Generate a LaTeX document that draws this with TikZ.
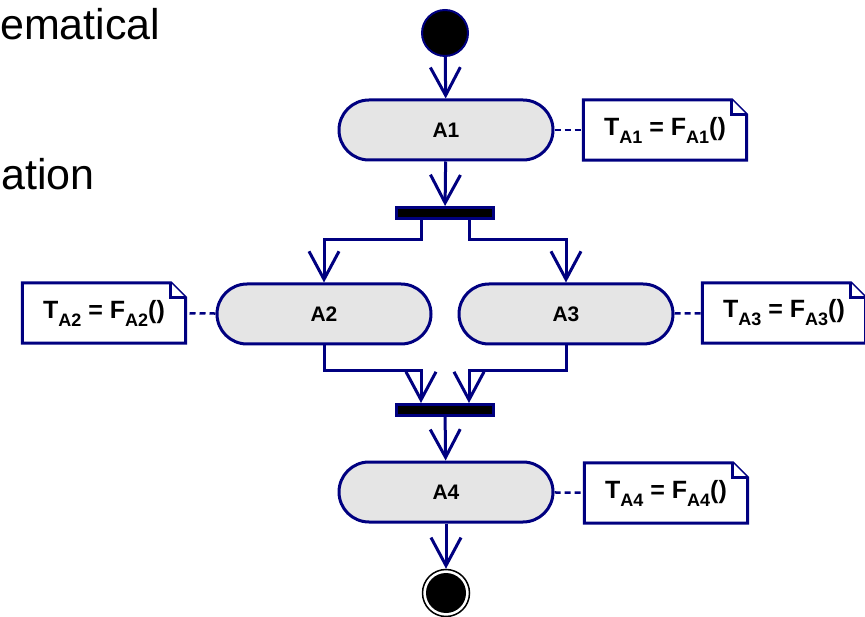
\documentclass[tikz,border=0pt]{standalone}
\usepackage{fontspec}
\setmainfont{Liberation Sans}
\usetikzlibrary{arrows.meta}
\definecolor{umlblue}{RGB}{0,0,128}
\newcommand\lowidx[1]{\raisebox{-0.32em}{\fontsize{18}{18}\selectfont #1}}
\newcommand\dogear[1]{\draw[noteline] (#1.south west) -- (#1.north west) -- ([xshift=-15]#1.north east) -- ([yshift=-15]#1.north east) -- (#1.south east) -- cycle;
	\draw[noteline] ([xshift=-15]#1.north east) -- ++(0,15) -- ([yshift=-15]#1.north east);}

\tikzset{
	action/.style={draw=umlblue, fill=black!10, line width=3pt, rounded corners=30pt, minimum width=214pt, minimum height=60pt, font=\fontsize{21}{24}\selectfont\bfseries},
	bar/.style={draw=umlblue, fill=black, line width=3pt, minimum width=97pt, minimum height=11pt, inner sep=0pt},
	note/.style={minimum width=163pt, minimum height=60pt, inner sep=0pt, font=\fontsize{25}{29}\selectfont\bfseries},
	noteline/.style={draw=umlblue, fill=white, line width=3pt, line join=miter},
	flow/.style={draw=umlblue, line width=3pt, -{Straight Barb[length=28pt, width=30pt]}},
	link/.style={draw=umlblue, line width=2.5pt, dash pattern=on 6pt off 4pt}
}

\begin{document}
\begin{tikzpicture}[x=1pt, y=-1pt]
	\useasboundingbox (0,0) rectangle (865,617);
	\clip (0,0) rectangle (865,617);
	
	% slide text
	\node[anchor=base west, inner sep=0pt, font=\fontsize{43}{52}\selectfont] (txta) at (0, 40) {ematical};
	\node[anchor=base west, inner sep=0pt, font=\fontsize{43}{52}\selectfont] (txtb) at (1, 190) {ation};
	
	% activities
	\node[circle, draw=umlblue, fill=black, line width=2pt, minimum size=46pt, inner sep=0pt] (start) at (445, 33) {};
	\node[action] (A1) at (446, 130) {A1};
	\node[bar] (bar1) at (445, 213) {};
	\node[action] (A2) at (324, 314) {A2};
	\node[action] (A3) at (566, 314) {A3};
	\node[bar] (bar2) at (445, 410) {};
	\node[action] (A4) at (446, 492) {A4};
	\node[circle, draw=black, fill=white, line width=1.5pt, minimum size=47pt, inner sep=0pt] (end) at (446, 593) {};
	\fill[black] (end) circle (20pt);
	
	% notes
	\node[note] (n1) at (665, 130) {};
	\dogear{n1}
	\node[note] at (n1) {T\lowidx{A1} = F\lowidx{A1}()};
	\node[note] (n2) at (104, 313) {};
	\dogear{n2}
	\node[note] at (n2) {T\lowidx{A2} = F\lowidx{A2}()};
	\node[note] (n3) at (784, 313) {};
	\dogear{n3}
	\node[note] at (n3) {T\lowidx{A3} = F\lowidx{A3}()};
	\node[note] (n4) at (666, 493) {};
	\dogear{n4}
	\node[note] at (n4) {T\lowidx{A4} = F\lowidx{A4}()};
	
	% flows
	\draw[flow] (start) -- (A1);
	\draw[flow] (A1) -- (bar1);
	\draw[flow] ([xshift=-24]bar1.south) -- ++(0,20) -| (A2.north);
	\draw[flow] ([xshift=24]bar1.south) -- ++(0,20) -| (A3.north);
	\draw[flow] (A2.south) -- ++(0,25) -| ([xshift=-24]bar2.north);
	\draw[flow] (A3.south) -- ++(0,25) -| ([xshift=24]bar2.north);
	\draw[flow] (bar2) -- (A4);
	\draw[flow] (A4) -- (end);
	
	% note links
	\draw[link] (A1) -- (n1);
	\draw[link] (A2) -- (n2);
	\draw[link] (A3) -- (n3);
	\draw[link] (A4) -- (n4);
\end{tikzpicture}
\end{document}
